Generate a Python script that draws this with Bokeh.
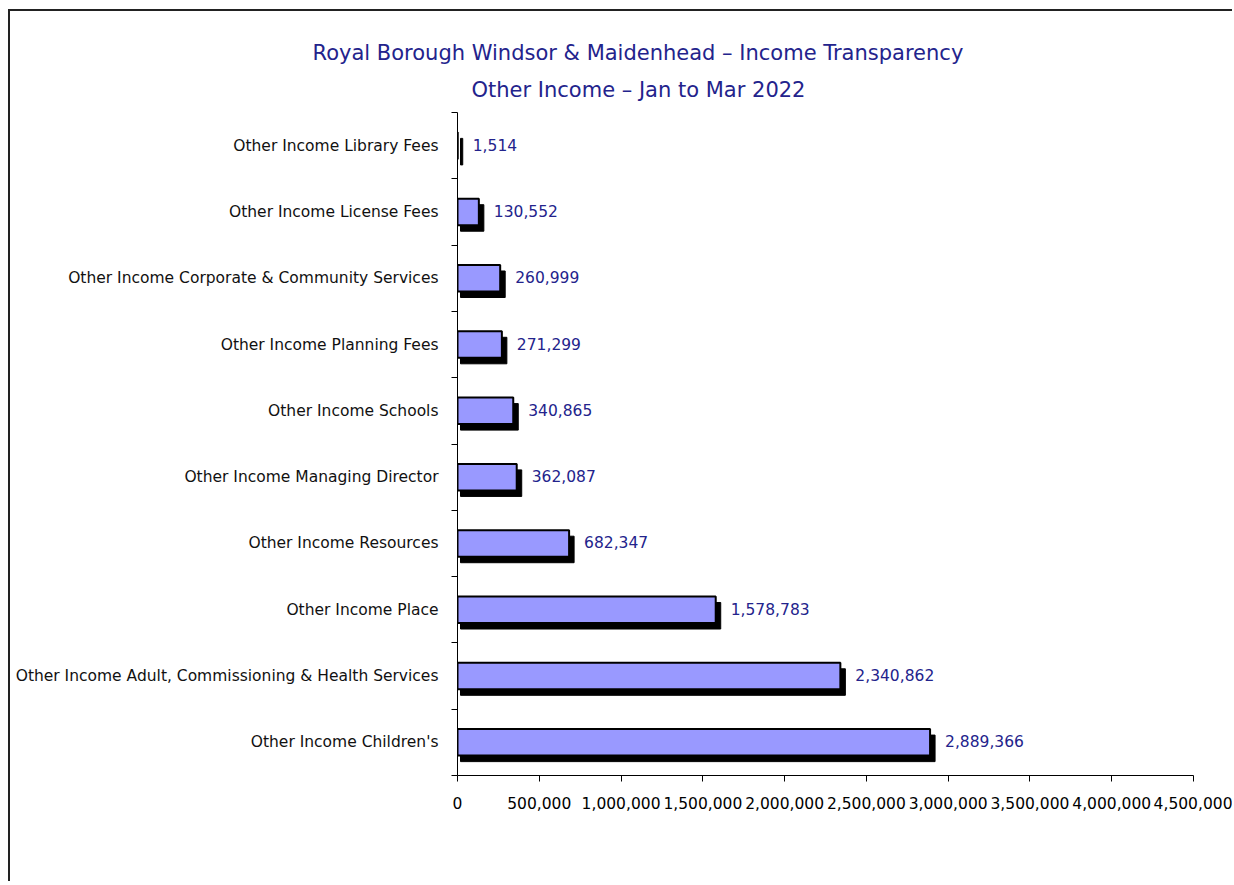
from bokeh.plotting import figure
from bokeh.models import Range1d, FixedTicker, NumeralTickFormatter, Title
from bokeh.core.properties import value
from bokeh.embed import file_html
from bokeh.resources import INLINE

# ---- data (top to bottom) ----
categories = [
    "Other Income Library Fees",
    "Other Income License Fees",
    "Other Income Corporate & Community Services",
    "Other Income Planning Fees",
    "Other Income Schools",
    "Other Income Managing Director",
    "Other Income Resources",
    "Other Income Place",
    "Other Income Adult, Commissioning & Health Services",
    "Other Income Children's",
]
values = [1514, 130552, 260999, 271299, 340865, 362087, 682347, 1578783, 2340862, 2889366]
x_ticks = [0, 500000, 1000000, 1500000, 2000000, 2500000, 3000000, 3500000, 4000000, 4500000]
title_main = "Royal Borough Windsor & Maidenhead \u2013 Income Transparency"
title_sub = "Other Income \u2013 Jan to Mar 2022"

n = len(categories)
ypos = list(range(1, n + 1))
bounds = [i + 0.5 for i in range(0, n + 1)]
labels = [f"{v:,}" for v in values]

XMAX = x_ticks[-1]
FRAME_W = 736
FRAME_H = 663
px_x = XMAX / FRAME_W
px_y = n / FRAME_H

FONT = "DejaVu Sans"
NAVY = "#23238c"

W, H = 1224, 872
p = figure(width=W, height=H, output_backend="svg", toolbar_location=None,
           x_range=Range1d(0, XMAX), y_range=Range1d(n + 0.5, 0.5),
           min_border_left=447, min_border_right=W - 447 - FRAME_W,
           min_border_top=101, min_border_bottom=H - 101 - FRAME_H,
           tools="")
p.outline_line_color = None
p.background_fill_color = "white"
p.border_fill_color = "white"
p.xgrid.visible = False
p.ygrid.visible = False
p.styles = {"border-left": "2px solid #222", "border-top": "2px solid #222",
            "margin-left": "8px", "margin-top": "9px"}

# shadow bars
dx = 5 * px_x
dy = 6 * px_y
p.hbar(y=[y + dy for y in ypos], left=[dx * 0.6] * n, right=[v + dx for v in values], height=0.4,
       fill_color="black", line_color="black", line_width=1)
# main bars
p.hbar(y=ypos, left=0, right=values, height=0.4,
       fill_color="#9999ff", line_color="black", line_width=2)

# value labels
p.text(x=values, y=ypos, text=labels, x_offset=15, y_offset=-1, text_baseline="middle", text_align="left",
       text_font=value(FONT), text_font_size="15.5px", text_color=NAVY)

# x axis
xa = p.xaxis[0]
xa.ticker = FixedTicker(ticks=x_ticks)
xa.formatter = NumeralTickFormatter(format="0,0")
xa.major_tick_out = 6
xa.major_tick_in = 0
xa.minor_tick_out = 0
xa.minor_tick_in = 0
xa.axis_line_color = "black"
xa.major_tick_line_color = "black"
xa.major_label_text_font = FONT
xa.major_label_text_font_size = "15.5px"
xa.major_label_text_color = "black"
xa.major_label_standoff = 15

# y axis
ya = p.yaxis[0]
ya.ticker = FixedTicker(ticks=ypos, minor_ticks=bounds)
ya.major_label_overrides = {y: c for y, c in zip(ypos, categories)}
ya.major_tick_out = 0
ya.major_tick_in = 0
ya.minor_tick_out = 6
ya.minor_tick_in = 0
ya.minor_tick_line_color = "black"
ya.axis_line_color = "black"
ya.major_label_text_font = FONT
ya.major_label_text_font_size = "15.5px"
ya.major_label_text_color = "#111111"
ya.major_label_standoff = 13

# titles
p.add_layout(Title(text=title_sub, align="left", offset=14, text_font=FONT,
                   text_font_size="21px", text_font_style="normal", text_color=NAVY, standoff=22), "above")
p.add_layout(Title(text=title_main, align="left", offset=-145, text_font=FONT,
                   text_font_size="21px", text_font_style="normal", text_color=NAVY, standoff=0), "above")

open("out.html", "w").write(file_html(p, INLINE))
